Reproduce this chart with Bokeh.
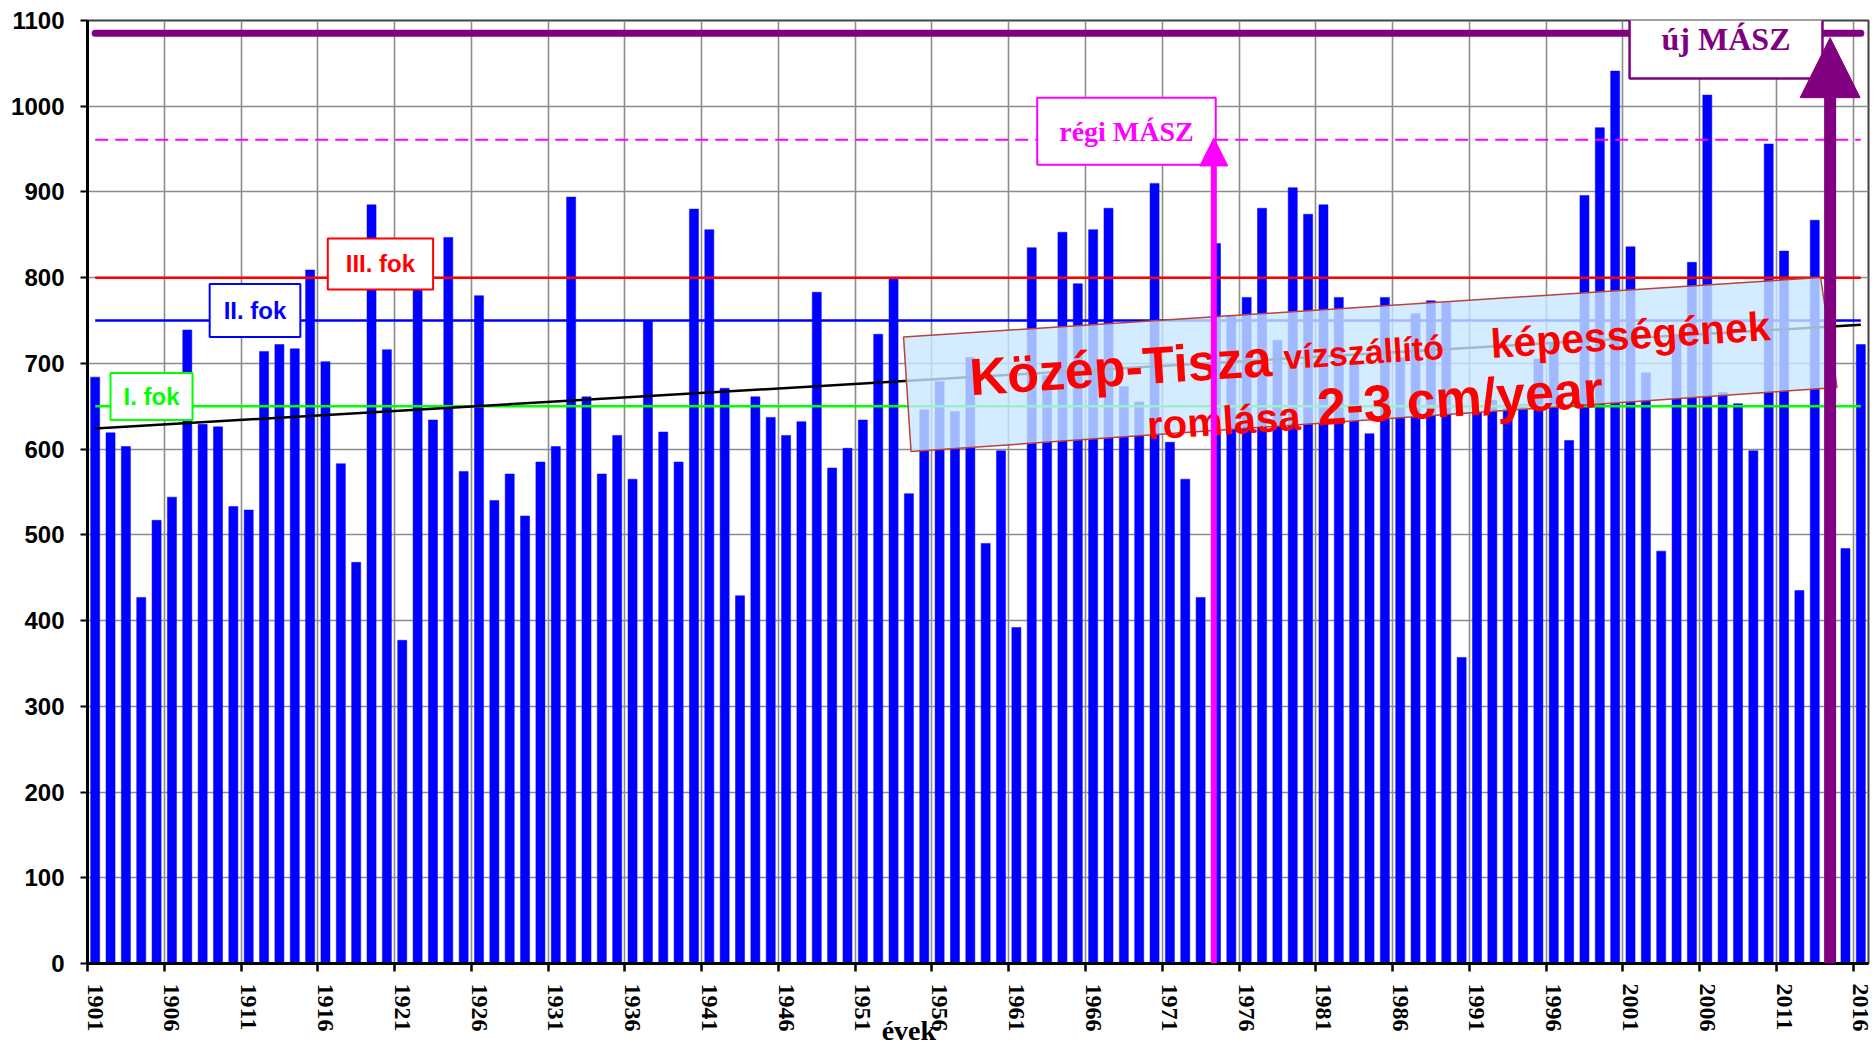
from bokeh.plotting import figure
from bokeh.models import (ColumnDataSource, FixedTicker, Label, Arrow, NormalHead,
                          Range1d, LinearAxis)
from bokeh.embed import file_html
from bokeh.resources import INLINE

# ---------------- data ----------------
years = list(range(1901, 2017))
max_levels = [
    684, 619, 603, 427, 517, 544, 739, 629, 626, 533,    # 1901-1910
    529, 714, 722, 717, 809, 702, 583, 468, 885, 716,    # 1911-1920
    377, 790, 634, 847, 574, 779, 540, 571, 522, 585,    # 1921-1930
    603, 894, 661, 571, 616, 565, 750, 620, 585, 880,    # 1931-1940
    856, 671, 429, 661, 637, 616, 632, 783, 578, 601,    # 1941-1950
    634, 734, 799, 548, 646, 679, 644, 707, 490, 598,    # 1951-1960
    392, 835, 686, 853, 793, 856, 881, 673, 655, 910,    # 1961-1970
    608, 565, 427, 840, 756, 777, 881, 727, 905, 874,    # 1971-1980
    885, 777, 703, 618, 777, 707, 758, 773, 771, 357,    # 1981-1990
    643, 657, 647, 652, 705, 724, 610, 896, 975, 1041,   # 1991-2000
    836, 689, 481, 731, 818, 1013, 666, 653, 598, 956,   # 2001-2010
    831, 435, 867, 600, 484, 722,                        # 2011-2016
]
tick_years = list(range(1901, 2017, 5))
y_ticks = list(range(0, 1101, 100))
x_title = "évek"

level_names = ["I. fok", "II. fok", "III. fok"]
level_values = [650, 750, 800]
level_colors = ["#00FF00", "#0000FF", "#FF0000"]
masz_old = 961
masz_new = 1085
trend_years = [1901, 2016]
trend_values = [624, 745]

# ---------------- figure ----------------
p = figure(width=1875, height=1048,
           x_range=Range1d(years[0] - 0.5, years[-1] + 0.5),
           y_range=Range1d(0, 1100),
           output_backend="svg", toolbar_location=None,
           min_border_left=87, min_border_right=7,
           min_border_top=20, min_border_bottom=85)
p.background_fill_color = "white"
p.border_fill_color = "white"
p.outline_line_color = "#404040"
p.outline_line_width = 2

boundaries = [y + 0.5 for y in range(years[0] + 4, years[-1], 5)]

p.xgrid.ticker = FixedTicker(ticks=boundaries)
p.xgrid.grid_line_color = "#8C8C8C"
p.xgrid.grid_line_width = 1.6
p.ygrid.grid_line_color = "#8C8C8C"
p.ygrid.grid_line_width = 1.6

p.yaxis.ticker = FixedTicker(ticks=y_ticks)
p.yaxis.major_label_text_font = "Liberation Sans"
p.yaxis.major_label_text_font_style = "bold"
p.yaxis.major_label_text_font_size = "24px"
p.yaxis.major_label_text_color = "black"
p.yaxis.major_tick_out = 7
p.yaxis.major_tick_in = 0
p.yaxis.major_tick_line_width = 2
p.yaxis.minor_tick_line_color = None
p.yaxis.axis_line_width = 3
p.yaxis.major_label_standoff = 16

p.xaxis.ticker = FixedTicker(ticks=tick_years, minor_ticks=[years[0] - 0.5] + boundaries)
p.xaxis.major_tick_line_color = None
p.xaxis.major_tick_out = 8
p.xaxis.major_tick_in = 0
p.xaxis.minor_tick_out = 8
p.xaxis.minor_tick_in = 0
p.xaxis.minor_tick_line_width = 2.5
p.xaxis.minor_tick_line_color = "black"
p.xaxis.axis_line_width = 3
p.xaxis.major_label_orientation = "vertical"
p.xaxis.major_label_text_font = "Liberation Serif"
p.xaxis.major_label_text_font_style = "bold"
p.xaxis.major_label_text_font_size = "24px"
p.xaxis.major_label_text_color = "black"
p.xaxis.major_label_standoff = 12

# axis title "évek" (off-centre, like the original) as a second, bare axis
title_axis = LinearAxis(ticker=FixedTicker(ticks=[1954]),
                        major_label_overrides={1954: x_title},
                        axis_line_color=None, major_tick_line_color=None,
                        minor_tick_line_color=None,
                        major_tick_out=0, major_tick_in=0, minor_tick_out=0,
                        major_label_standoff=-20,
                        major_label_text_font="Liberation Serif",
                        major_label_text_font_style="bold",
                        major_label_text_font_size="28px",
                        major_label_text_color="black")
p.add_layout(title_axis, "below")

# ---------------- bars ----------------
src = ColumnDataSource(dict(year=years, level=max_levels))
p.vbar(x="year", top="level", bottom=0, width=0.59, source=src,
       fill_color="#0000FF", line_color="#0000FF", line_width=0.5)

# ---------------- reference lines ----------------
xs_full = [years[0], years[-1]]
for v, c in zip(level_values, level_colors):
    p.line(xs_full, [v, v], line_color=c, line_width=2.5)
p.line(xs_full, [masz_old, masz_old], line_color="#FF00FF", line_width=2, line_dash="13 7")
p.line(xs_full, [masz_new, masz_new], line_color="#800080", line_width=7, line_cap="round")
p.line(trend_years, trend_values, line_color="black", line_width=2.5)

# ---------------- big annotation box ----------------
box_x = [1953.65, 2013.38, 2014.45, 1954.14]
box_y = [730.8, 800.2, 671.9, 597.2]
p.patch(box_x, box_y, fill_color="#C8E7FF", fill_alpha=0.8,
        line_color="#B8423F", line_width=1.5)

ANG = 0.064
for (tx, ty, txt, size) in [
    (1957.95, 683.9, "Közép-Tisza", "52px"),
    (1978.40, 707.2, "vízszállító", "34px"),
    (1991.88, 722.6, "képességének", "41px"),
    (1969.52, 627.6, "romlása", "40px"),
    (1980.59, 648.9, "2-3 cm/year", "52px"),
]:
    p.add_layout(Label(x=tx, y=ty, text=txt, angle=ANG,
                       text_font="Liberation Sans", text_font_style="bold",
                       text_font_size=size, text_color="#FF0000",
                       text_align="left", text_baseline="alphabetic"))

# ---------------- level labels ----------------
lab_pos = [(1904.67, 661.4, 13, 10), (1911.41, 761.7, 14, 13), (1919.58, 816.0, 18, 12)]
for name, c, (lx, ly, ph, pv) in zip(level_names, level_colors, lab_pos):
    p.add_layout(Label(x=lx, y=ly, text=name,
                       text_font="Liberation Sans", text_font_style="bold",
                       text_font_size="24px", text_color=c,
                       text_align="center", text_baseline="middle",
                       background_fill_color="white", border_line_color=c,
                       border_line_width=2,
                       padding=dict(left=ph, right=ph, top=pv, bottom=pv)))

p.add_layout(Label(x=1968.17, y=970.9, text="régi MÁSZ",
                   text_font="Liberation Serif", text_font_style="bold",
                   text_font_size="28px", text_color="#FF00FF",
                   text_align="center", text_baseline="middle",
                   background_fill_color="white", border_line_color="#FF00FF",
                   border_line_width=2,
                   padding=dict(left=22, right=22, top=18, bottom=18)))

p.add_layout(Label(x=2007.22, y=1079, text="új MÁSZ",
                   text_font="Liberation Serif", text_font_style="bold",
                   text_font_size="32px", text_color="#800080",
                   text_align="center", text_baseline="alphabetic",
                   background_fill_color="white", border_line_color="#800080",
                   border_line_width=2.5,
                   padding=dict(left=32, right=32, top=22, bottom=22)))

# ---------------- arrows ----------------
p.add_layout(Arrow(end=NormalHead(size=28, fill_color="#FF00FF", line_color="#FF00FF"),
                   x_start=1973.86, y_start=0, x_end=1973.86, y_end=963,
                   line_color="#FF00FF", line_width=6))
p.add_layout(Arrow(end=NormalHead(size=60, fill_color="#800080", line_color="#800080"),
                   x_start=2014.0, y_start=0, x_end=2014.0, y_end=1080,
                   line_color="#800080", line_width=12))

open("out.html", "w").write(file_html(p, INLINE))
